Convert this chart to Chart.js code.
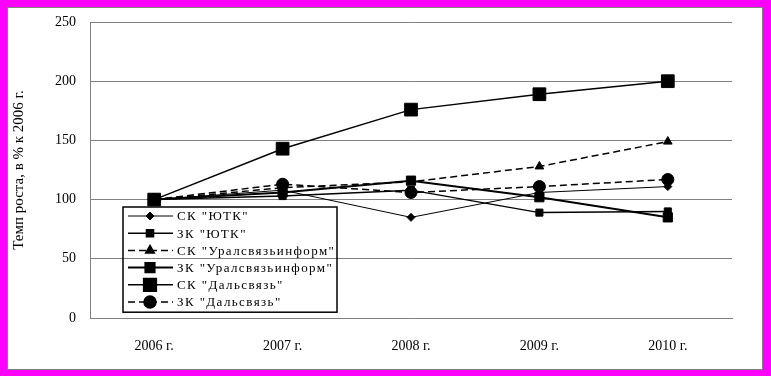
<!DOCTYPE html>
<html>
<head>
<meta charset="utf-8">
<script src="https://cdn.jsdelivr.net/npm/chart.js@4.4.1/dist/chart.umd.min.js"></script>
<style>
    html, body { margin: 0; padding: 0; background: #ff00ff; }
    #box {
        position: absolute; left: 7px; top: 7px; width: 756px; height: 363px;
        box-sizing: border-box; border: 1px solid #808080; background: #fff;
    }
    #box canvas { display: block; }
</style>
</head>
<body>
<div id="box"><canvas id="growthChart" width="754" height="361"></canvas></div>
<script>
const years = ['2006 г.', '2007 г.', '2008 г.', '2009 г.', '2010 г.'];
const yTitle = 'Темп роста, в % к 2006 г.';

// values, % of 2006
const skUtk = [100, 108, 85, 106, 111];
const zkUtk = [100, 103, 108, 89, 90];
const skUral = [100, 110, 115, 128, 149];
const zkUral = [100, 106, 116, 102, 85];
const skDal = [100, 143, 176, 189, 200];
const zkDal = [100, 113, 106, 111, 117];

const names = ['СК "ЮТК"', 'ЗК "ЮТК"', 'СК "Уралсвязьинформ"', 'ЗК "Уралсвязьинформ"', 'СК "Дальсвязь"', 'ЗК "Дальсвязь"'];
const series = [skUtk, zkUtk, skUral, zkUral, skDal, zkDal];
const styles = [
    { pointStyle: 'rectRot', pointRadius: 4, borderWidth: 1, borderDash: [] },
    { pointStyle: 'rect', pointRadius: 5, borderWidth: 1.5, borderDash: [] },
    { pointStyle: 'triangle', pointRadius: 5, borderWidth: 1.5, borderDash: [7, 4] },
    { pointStyle: 'rect', pointRadius: 6.5, borderWidth: 2, borderDash: [] },
    { pointStyle: 'rect', pointRadius: 9, borderWidth: 1.5, borderDash: [] },
    { pointStyle: 'circle', pointRadius: 6, borderWidth: 1.5, borderDash: [7, 4] }
];

const serif = "'Liberation Serif', 'Times New Roman', serif";

// legend sits inside the plot, drawn by hand
const boxLegend = {
    id: 'boxLegend',
    afterDraw(chart) {
        const ctx = chart.ctx;
        const area = chart.chartArea;
        const x0 = area.left + 33, y0 = area.top + 185;
        const w = 214, rowH = 17.2;
        ctx.save();
        ctx.strokeStyle = '#000';
        ctx.lineWidth = 1.5;
        ctx.strokeRect(x0, y0, w, rowH * 6 + 2);
        ctx.font = '13px ' + serif;
        ctx.textBaseline = 'middle';
        ctx.fillStyle = '#000';
        if ('letterSpacing' in ctx) ctx.letterSpacing = '1.4px';
        chart.data.datasets.forEach((ds, i) => {
            const y = y0 + 9 + i * rowH;
            ctx.beginPath();
            ctx.setLineDash(ds.borderDash);
            ctx.lineWidth = ds.borderWidth;
            ctx.moveTo(x0 + 5, y);
            ctx.lineTo(x0 + 50, y);
            ctx.stroke();
            ctx.setLineDash([]);
            Chart.helpers.drawPoint(ctx, {
                pointStyle: ds.pointStyle, radius: ds.pointRadius, borderWidth: 1, rotation: 0
            }, x0 + 27, y);
            ctx.fillStyle = '#000';
            ctx.fill();
            ctx.fillText(ds.label, x0 + 54, y + 1);
        });
        ctx.restore();
    }
};

const datasets = series.map((data, i) => ({
    label: names[i],
    data: data,
    borderColor: '#000',
    backgroundColor: '#000',
    pointBackgroundColor: '#000',
    pointBorderColor: '#000',
    pointBorderWidth: 1,
    pointStyle: styles[i].pointStyle,
    pointRadius: styles[i].pointRadius,
    borderWidth: styles[i].borderWidth,
    borderDash: styles[i].borderDash,
    tension: 0,
    order: series.length - i
}));

new Chart(document.getElementById('growthChart'), {
    type: 'line',
    data: { labels: years, datasets: datasets },
    plugins: [boxLegend],
    options: {
        responsive: false,
        animation: false,
        layout: { padding: { left: 0, top: 14, right: 30, bottom: 0 } },
        scales: {
            x: {
                offset: true,
                grid: { display: false, drawTicks: false, offset: true },
                border: { display: true, color: '#808080' },
                ticks: { color: '#000', font: { family: serif, size: 14 }, padding: 20 },
                afterFit: (s) => { s.height = 51; s.paddingLeft = 0; s.paddingRight = 0; }
            },
            y: {
                min: 0,
                max: 250,
                ticks: { stepSize: 50, color: '#000', font: { family: serif, size: 14 }, padding: 14 },
                grid: { color: '#808080', drawTicks: false },
                border: { display: true, color: '#808080' },
                title: {
                    display: true,
                    text: yTitle,
                    color: '#000',
                    font: { family: serif, size: 15 },
                    padding: { top: 2, bottom: 0 }
                },
                afterFit: (s) => { s.width = 82; s.paddingTop = 0; s.paddingBottom = 0; }
            }
        },
        plugins: {
            legend: { display: false },
            tooltip: { enabled: false }
        }
    }
});
</script>
</body>
</html>
